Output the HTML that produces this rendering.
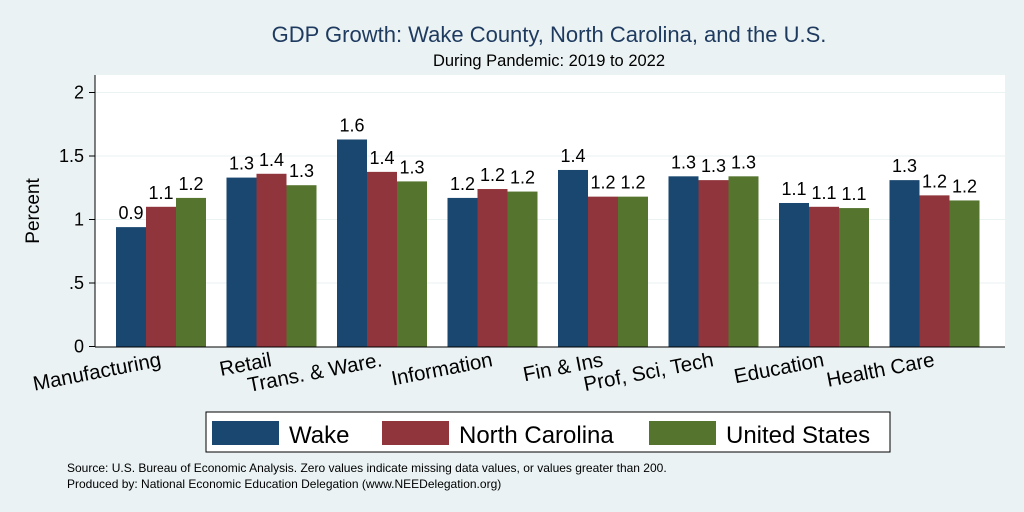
<!DOCTYPE html>
<html><head><meta charset="utf-8"><style>
body{margin:0;background:#eaf2f3;font-family:"Liberation Sans",sans-serif}
svg{display:block}
</style></head><body>
<svg id="c" width="1024" height="512">
<rect width="1024" height="512" fill="#eaf2f3"/>
<text x="549" y="42" text-anchor="middle" font-size="22" fill="#1e3a5f">GDP Growth: Wake County, North Carolina, and the U.S.</text>
<text x="549" y="66" text-anchor="middle" font-size="16.5" fill="#000">During Pandemic: 2019 to 2022</text>
<rect x="95" y="75" width="910" height="272" fill="#fff"/>
<g id="grid"></g><g id="bars"></g><g id="axes"></g>
<text transform="translate(39,211) rotate(-90)" text-anchor="middle" font-size="19">Percent</text>
<rect x="206" y="412" width="684" height="40" fill="#fff" stroke="#000"/>
<g><rect x="212" y="421" width="67" height="24" fill="#1a476f"/><text x="289" y="443" font-size="24">Wake</text></g>
<g><rect x="382" y="421" width="67" height="24" fill="#90353b"/><text x="459" y="443" font-size="24">North Carolina</text></g>
<g><rect x="649" y="421" width="67" height="24" fill="#55752f"/><text x="726" y="443" font-size="24">United States</text></g>
<text x="67" y="472" font-size="12">Source: U.S. Bureau of Economic Analysis. Zero values indicate missing data values, or values greater than 200.</text>
<text x="67" y="488" font-size="12">Produced by: National Economic Education Delegation (www.NEEDelegation.org)</text>
</svg>
<script>
const categories=["Manufacturing","Retail","Trans. & Ware.","Information","Fin & Ins","Prof, Sci, Tech","Education","Health Care"];
const wake=[0.94,1.33,1.63,1.17,1.39,1.34,1.13,1.31];
const nc=[1.10,1.36,1.375,1.24,1.18,1.31,1.10,1.19];
const us=[1.17,1.27,1.30,1.22,1.18,1.34,1.09,1.15];
const wakeLabels=["0.9","1.3","1.6","1.2","1.4","1.3","1.1","1.3"];
const ncLabels=["1.1","1.4","1.4","1.2","1.2","1.3","1.1","1.2"];
const usLabels=["1.2","1.3","1.3","1.2","1.2","1.3","1.1","1.2"];
const yTicks=[0,0.5,1,1.5,2];
const yTickLabels=["0",".5","1","1.5","2"];
const NS="http://www.w3.org/2000/svg";
const y=v=>346.5-v*127;
const gx=i=>116+i*110.5;
const bw=30;
function mk(t,a,p){const e=document.createElementNS(NS,t);for(const k in a)e.setAttribute(k,a[k]);p.appendChild(e);return e;}
const grid=document.getElementById('grid'),bars=document.getElementById('bars'),axes=document.getElementById('axes');
yTicks.forEach((t,i)=>{
 if(t>0){const g=mk('line',{x1:95,x2:1005,y1:y(t),y2:y(t),stroke:'#eaf2f3','stroke-width':1},grid);
 
 }
 const tk=mk('line',{x1:89,x2:95,y1:y(t),y2:y(t),stroke:'#000'},axes);
 
 
 const tl=mk('text',{x:84,y:y(t)+6,'text-anchor':'end','font-size':18},axes);
 tl.textContent=yTickLabels[i];
 
 
});
const series=[[wake,wakeLabels,'#1a476f','wake'],[nc,ncLabels,'#90353b','nc'],[us,usLabels,'#55752f','us']];
categories.forEach((c,i)=>{
 series.forEach((s,j)=>{
  const x=gx(i)+j*bw,v=s[0][i];
  const r=mk('rect',{x:x,y:y(v),width:bw,height:y(0)-y(v),fill:s[2]},bars);
  
  
  const l=mk('text',{x:x+bw/2,y:y(v)-8,'text-anchor':'middle','font-size':18},bars);
  l.textContent=s[1][i];
  
  
 });
 const cx=gx(i)+46;
 const t=mk('text',{x:cx,y:366,'text-anchor':'end','font-size':20.5,transform:`rotate(-11 ${cx} 366)`},axes);
 t.textContent=c;
 
 
});
const ax=mk('line',{x1:95,x2:95,y1:75,y2:347,stroke:'#000'},axes);


const bx=mk('line',{x1:95,x2:1005,y1:347,y2:347,stroke:'#000'},axes);


</script>
</body></html>
